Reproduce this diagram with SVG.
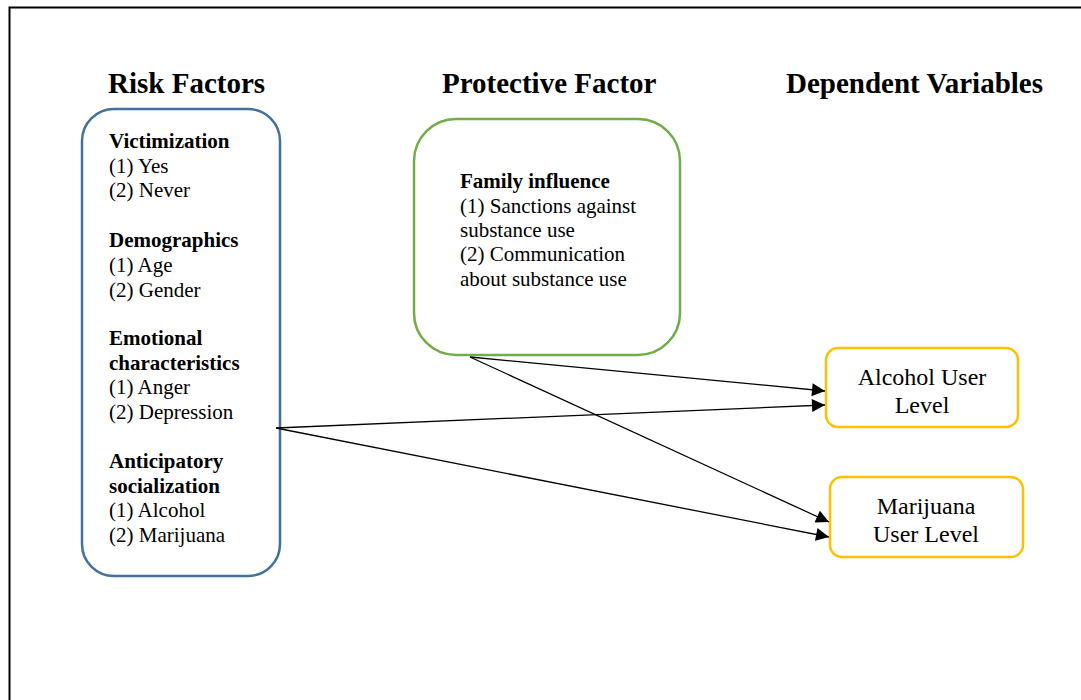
<svg xmlns="http://www.w3.org/2000/svg" width="1081" height="700" viewBox="0 0 1081 700">
<style>
text{font-family:"Liberation Serif","Times New Roman",serif;fill:#000}
.h{font-size:29px;font-weight:bold}
.t{font-size:21px}
.d{font-size:24px}
.b{font-weight:bold}
.c{text-anchor:middle}
.e{stroke:#000;stroke-width:1.3;fill:none;marker-end:url(#a)}
</style>
<defs>
<marker id="a" viewBox="0 0 10 10" refX="10" refY="5" markerWidth="18" markerHeight="13" markerUnits="userSpaceOnUse" orient="auto"><path d="M0,0L10,5L0,10z" fill="#000"/></marker>
</defs>
<rect width="1081" height="700" fill="#fff"/>
<path d="M9.5,700V7.5H1081" fill="none" stroke="#000" stroke-width="2"/>
<g id="headers">
<text class="h" x="108" y="93">Risk Factors</text>
<text class="h" x="442" y="93">Protective Factor</text>
<text class="h" x="786" y="93">Dependent Variables</text>
</g>
<g id="risk">
<rect x="82" y="109" width="198" height="467" rx="32" fill="#fff" stroke="#41719c" stroke-width="2.5"/>
<text class="t"><tspan class="b" x="109" y="148">Victimization</tspan><tspan x="109" y="173">(1) Yes</tspan><tspan x="109" y="197">(2) Never</tspan><tspan class="b" x="109" y="247">Demographics</tspan><tspan x="109" y="272">(1) Age</tspan><tspan x="109" y="297">(2) Gender</tspan><tspan class="b" x="109" y="345">Emotional</tspan><tspan class="b" x="109" y="370">characteristics</tspan><tspan x="109" y="394">(1) Anger</tspan><tspan x="109" y="419">(2) Depression</tspan><tspan class="b" x="109" y="468">Anticipatory</tspan><tspan class="b" x="109" y="493">socialization</tspan><tspan x="109" y="517">(1) Alcohol</tspan><tspan x="109" y="542">(2) Marijuana</tspan></text>
</g>
<g id="protective">
<rect x="414" y="119" width="266" height="236" rx="42" fill="#fff" stroke="#70ad47" stroke-width="2.5"/>
<text class="t"><tspan class="b" x="460" y="188">Family influence</tspan><tspan x="460" y="213">(1) Sanctions against</tspan><tspan x="460" y="237">substance use</tspan><tspan x="460" y="261">(2) Communication</tspan><tspan x="460" y="286">about substance use</tspan></text>
</g>
<g id="alcohol">
<rect x="826" y="348" width="192" height="79" rx="12" fill="#fff" stroke="#ffc000" stroke-width="2.5"/>
<text class="d c"><tspan x="922" y="385">Alcohol User</tspan><tspan x="922" y="413">Level</tspan></text>
</g>
<g id="marijuana">
<rect x="830" y="477" width="193" height="80" rx="12" fill="#fff" stroke="#ffc000" stroke-width="2.5"/>
<text class="d c"><tspan x="926" y="514">Marijuana</tspan><tspan x="926" y="542">User Level</tspan></text>
</g>
<g id="connectors">
<line class="e" x1="470" y1="357" x2="825" y2="391"/>
<line class="e" x1="276" y1="428" x2="825" y2="405"/>
<line class="e" x1="470" y1="357" x2="829" y2="522"/>
<line class="e" x1="276" y1="428" x2="829" y2="537"/>
</g>
</svg>
